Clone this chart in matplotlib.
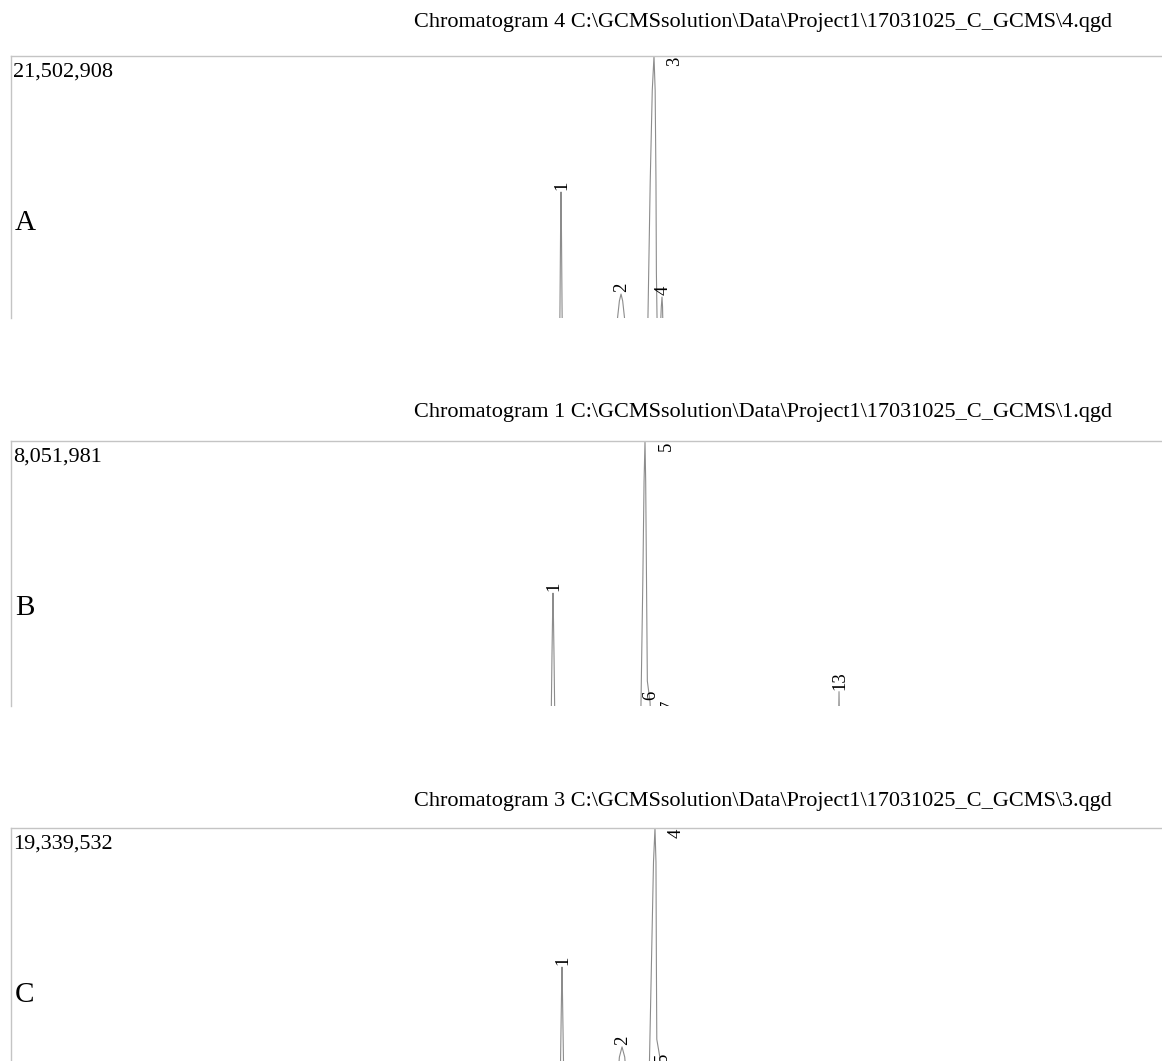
import matplotlib
matplotlib.use("Agg")
import matplotlib.pyplot as plt

plt.rcParams['font.family'] = ['Liberation Serif', 'DejaVu Serif']

# ---- data (retention time in min, intensity in counts) ----
titles = [r"Chromatogram 4 C:\GCMSsolution\Data\Project1\17031025_C_GCMS\4.qgd",
          r"Chromatogram 1 C:\GCMSsolution\Data\Project1\17031025_C_GCMS\1.qgd",
          r"Chromatogram 3 C:\GCMSsolution\Data\Project1\17031025_C_GCMS\3.qgd"]
panel_letters = ["A", "B", "C"]
max_counts = [21502908, 8051981, 19339532]
visible_low = [10.0e6, 3.8e6, 9.0e6]

rt_a = [2.0, 15.25, 15.33, 15.355, 15.372, 15.380, 15.388, 15.405, 15.43, 15.51,
        16.50, 16.60, 16.70, 16.755, 16.80, 16.84, 16.88, 16.925, 16.98, 17.08,
        17.40, 17.49, 17.55, 17.60, 17.642, 17.67, 17.69, 17.70, 17.72,
        17.76, 17.82, 17.837, 17.85, 17.92, 18.05, 30.0]
int_a = [0.4e6, 0.4e6, 6.0e6, 10.5e6, 14.5e6, 15.53e6, 14.5e6, 10.5e6, 6.0e6, 0.4e6,
         0.4e6, 3.0e6, 8.0e6, 10.0e6, 10.75e6, 11.05e6, 10.75e6, 10.0e6, 8.0e6, 3.0e6,
         0.4e6, 9.5e6, 16.0e6, 20.0e6, 21502908, 20.0e6, 16.0e6, 12.0e6, 9.5e6,
         8.0e6, 10.5e6, 10.92e6, 10.5e6, 3.0e6, 0.4e6, 0.4e6]
peaks_a = [("1", 15.380, 15.53e6), ("2", 16.84, 11.05e6),
           ("3", 17.642, 21502908), ("4", 17.837, 10.92e6)]

rt_b = [2.0, 15.05, 15.13, 15.16, 15.178, 15.185, 15.192, 15.21, 15.24, 15.32,
        17.25, 17.32, 17.37, 17.40, 17.423, 17.44, 17.46, 17.48,
        17.545, 17.60, 17.958, 18.05, 18.20,
        22.05, 22.12, 22.143, 22.165, 22.24, 30.0]
int_b = [0.2e6, 0.2e6, 3.0e6, 4.6e6, 5.4e6, 5.61e6, 5.4e6, 4.6e6, 3.0e6, 0.2e6,
         0.2e6, 3.6e6, 5.8e6, 7.4e6, 8051981, 7.4e6, 5.8e6, 4.2e6,
         3.87e6, 3.0e6, 3.72e6, 2.0e6, 0.2e6,
         0.2e6, 3.0e6, 4.03e6, 3.0e6, 0.2e6, 0.2e6]
peaks_b = [("1", 15.185, 5.61e6), ("5", 17.423, 8051981), ("6", 17.545, 3.87e6),
           ("7", 17.958, 3.72e6), ("13", 22.143, 4.03e6)]

rt_c = [2.0, 15.27, 15.35, 15.385, 15.398, 15.404, 15.41, 15.423, 15.46, 15.54,
        16.52, 16.63, 16.74, 16.80, 16.864, 16.93, 16.99, 17.10,
        17.45, 17.53, 17.58, 17.63, 17.666, 17.69, 17.70, 17.71,
        17.812, 17.83, 17.95, 18.10, 30.0]
int_c = [0.3e6, 0.3e6, 8.0e6, 12.0e6, 13.4e6, 13.85e6, 13.4e6, 12.0e6, 8.0e6, 0.3e6,
         0.3e6, 5.0e6, 9.0e6, 10.3e6, 10.70e6, 10.3e6, 9.0e6, 5.0e6,
         2.0e6, 10.0e6, 14.0e6, 18.0e6, 19339532, 18.0e6, 14.0e6, 11.0e6,
         10.03e6, 9.5e6, 2.0e6, 0.3e6, 0.3e6]
peaks_c = [("1", 15.404, 13.85e6), ("2", 16.864, 10.70e6),
           ("4", 17.666, 19339532), ("5", 17.812, 10.03e6)]

traces = [(rt_a, int_a, peaks_a), (rt_b, int_b, peaks_b), (rt_c, int_c, peaks_c)]

# ---- layout (pixel based, figure 1162 x 1061) ----
W, H = 1162, 1061
# (top px, bottom px) of each panel box
boxes = [(56, 318), (441, 706), (828, 1090)]
title_gap = [34, 29, 26]

fig = plt.figure(figsize=(W / 100, H / 100), dpi=100)
fig.patch.set_facecolor("white")

for i, (rt, inten, peaks) in enumerate(traces):
    top, bot = boxes[i]
    ax = fig.add_axes([11 / W, 1 - bot / H, (W - 11) / W, (bot - top) / H])
    ax.plot(rt, inten, color="#8c8c8c", lw=0.8)
    ax.set_xlim(2.0, 30.0)
    ax.set_ylim(visible_low[i], max_counts[i])
    for s in ["right", "bottom"]:
        ax.spines[s].set_visible(False)
    for s in ["top", "left"]:
        ax.spines[s].set_color("#c4c4c4")
        ax.spines[s].set_linewidth(1.0)
    ax.set_xticks([])
    ax.set_yticks([])

    for lab, t, v in peaks:
        if v >= max_counts[i]:
            ax.annotate(lab, (t, max_counts[i]), xytext=(21, -1), textcoords="offset pixels",
                        rotation=90, ha="center", va="top", fontsize=13.5,
                        annotation_clip=False, clip_on=True)
        else:
            ax.annotate(lab, (t, v), xytext=(1, 2), textcoords="offset pixels",
                        rotation=90, ha="center", va="bottom", fontsize=13.5,
                        annotation_clip=False, clip_on=True)

    ax.annotate(f"{max_counts[i]:,}", (0, 1), xycoords="axes fraction",
                xytext=(2, -7), textcoords="offset pixels",
                ha="left", va="top", fontsize=16)
    ax.annotate(panel_letters[i], (0, 1), xycoords="axes fraction",
                xytext=(4, -167), textcoords="offset pixels",
                ha="left", va="center", fontsize=21)
    ax.annotate(titles[i], (1, 1), xycoords="axes fraction",
                xytext=(-50, title_gap[i]), textcoords="offset pixels",
                ha="right", va="center", fontsize=16, annotation_clip=False)

fig.savefig("out.png", dpi=100)
